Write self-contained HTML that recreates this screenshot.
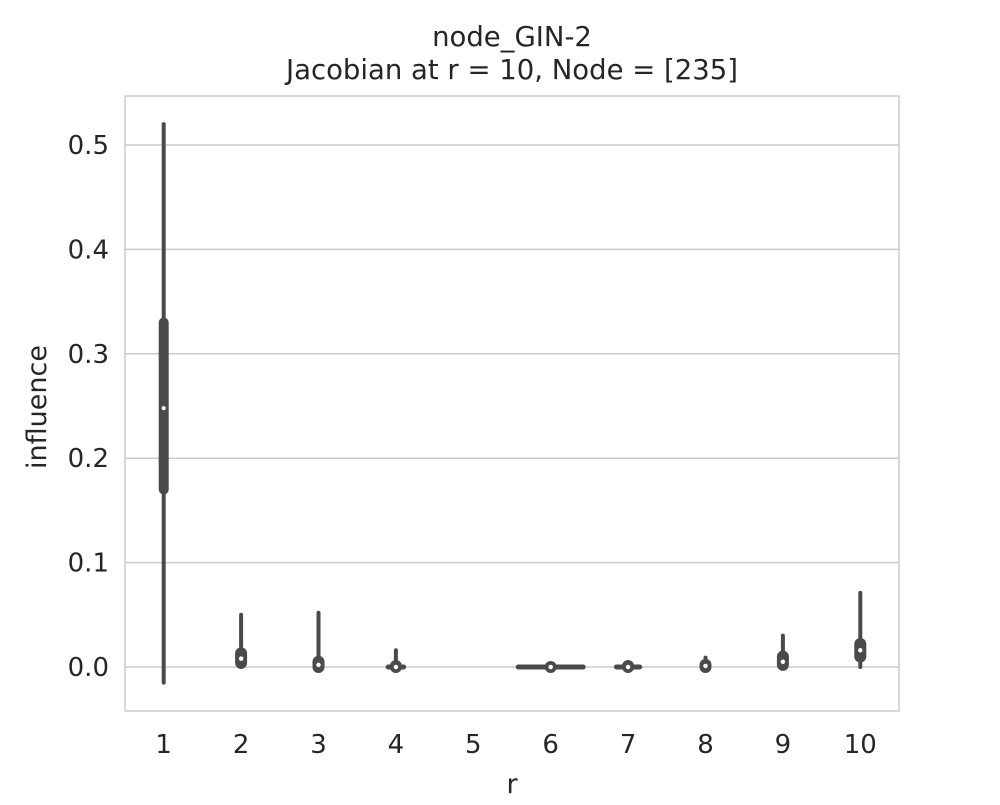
<!DOCTYPE html>
<html><head><meta charset="utf-8"><style>
body{margin:0;background:#fff;font-family:"Liberation Sans","DejaVu Sans",sans-serif;}
</style></head><body>
<svg id="c" width="1000" height="800" xmlns="http://www.w3.org/2000/svg" font-family="DejaVu Sans, Liberation Sans, sans-serif">
<text x="512" y="46" text-anchor="middle" font-size="27.5" fill="#262626">node_GIN-2</text>
<text x="512" y="79" text-anchor="middle" font-size="27.5" fill="#262626">Jacobian at r = 10, Node = [235]</text>
<g id="plot"></g>
</svg>
<script>
const categories=["1","2","3","4","5","6","7","8","9","10"];
const mins=[-0.015,0.0,0.0,-0.002,null,0,-0.001,0,0,0];
const maxs=[0.52,0.05,0.052,0.016,null,0,0.001,0.009,0.03,0.071];
const q1s=[0.17,0.004,0.0,0.0,null,0,0,0,0.002,0.01];
const q3s=[0.33,0.013,0.005,0.001,null,0,0.001,0.002,0.01,0.022];
const medians=[0.248,0.008,0.002,0.0,null,0,0.0,0.001,0.005,0.016];
const spreads=[0,0,0,0.1,null,0.42,0.15,0,0,0];
const yTicks=[0,0.1,0.2,0.3,0.4,0.5];
const ns="http://www.w3.org/2000/svg";
const L=125,R=899,T=96,B=711;
const y=v=>667-v*1044;
const step=(R-L)/categories.length;
const x=i=>L+step*(i+0.5);
const g=document.getElementById('plot');
function el(t,a){const e=document.createElementNS(ns,t);for(const k in a)e.setAttribute(k,a[k]);g.appendChild(e);return e;}
yTicks.forEach(t=>{
 const l=el('line',{x1:L,x2:R,y1:y(t),y2:y(t),stroke:'#cccccc','stroke-width':1.5});
 
 
 const tx=el('text',{x:L-16,y:y(t)+9,'text-anchor':'end','font-size':26,fill:'#262626'});
 tx.textContent=t.toFixed(1);
 
 
});
const fr=el('rect',{x:L,y:T,width:R-L,height:B-T,fill:'none',stroke:'#cccccc','stroke-width':1.5});


categories.forEach((c,i)=>{
 const tx=el('text',{x:x(i),y:753,'text-anchor':'middle','font-size':26,fill:'#262626'});
 tx.textContent=c;
 
 
 if(mins[i]===null)return;
 const cx=x(i);
 if(spreads[i]>0){
  const s=el('line',{x1:cx-spreads[i]*step,x2:cx+spreads[i]*step,y1:y(medians[i]),y2:y(medians[i]),stroke:'#4a4a4a','stroke-width':5,'stroke-linecap':'round'});
  
  
 }
 const w=el('line',{x1:cx,x2:cx,y1:y(mins[i]),y2:y(maxs[i]),stroke:'#4a4a4a','stroke-width':4,'stroke-linecap':'round'});
 
 
 const b=el('line',{x1:cx,x2:cx,y1:y(q1s[i]),y2:y(q3s[i]),stroke:'#4a4a4a','stroke-width':i===0?10:12,'stroke-linecap':'round'});
 
 
 const m=el('circle',{cx:cx,cy:y(medians[i]),r:i===0?2:3.5,fill:'#fff',stroke:i===0?'none':'#4a4a4a','stroke-width':2.5});
 
 
});
const xt=el('text',{x:512,y:793,'text-anchor':'middle','font-size':27,fill:'#262626'});
xt.textContent='r';


const yt=el('text',{x:46,y:407,'text-anchor':'middle','font-size':27,fill:'#262626',transform:'rotate(-90 46 407)'});
yt.textContent='influence';


</script>
</body></html>
